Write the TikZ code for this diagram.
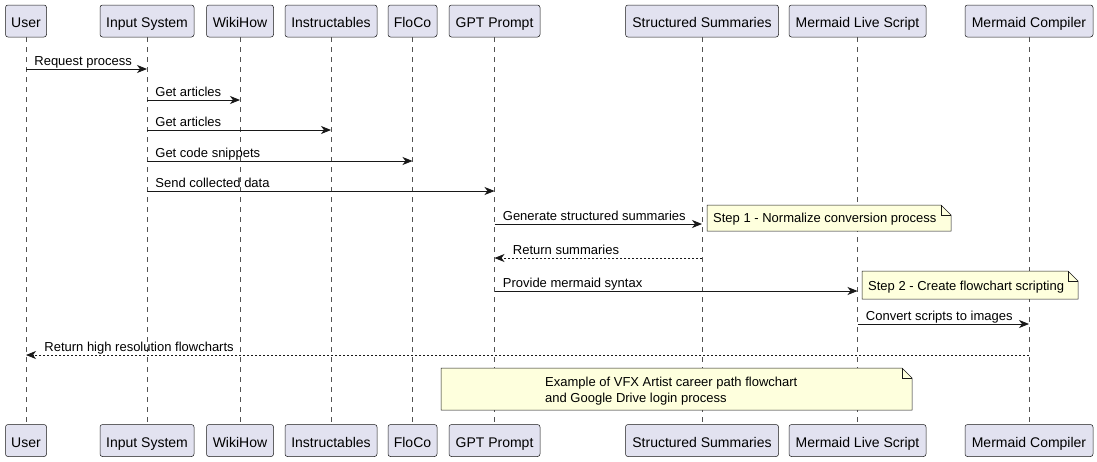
\documentclass[tikz,border=0pt]{standalone}
\usepackage{fontspec}
\setmainfont{Liberation Sans}
\usetikzlibrary{arrows.meta}

\definecolor{partfill}{HTML}{E2E2F0}
\definecolor{notefill}{HTML}{FEFFDD}
\definecolor{umlline}{HTML}{181818}

\tikzset{
  part/.style={draw=umlline, fill=partfill, rounded corners=2.5pt, line width=0.5pt,
    minimum height=32pt, inner sep=0pt, text height=13pt, text depth=0pt,
    font=\fontsize{14}{16}\selectfont},
  life/.style={draw=umlline!75, line width=0.5pt, dash pattern=on 5pt off 5pt},
  msg/.style={draw=umlline, line width=0.8pt, -{Stealth[length=10pt,width=8pt,inset=3pt]}},
  ret/.style={msg, dash pattern=on 2pt off 2pt},
  lbl/.style={font=\fontsize{13}{15}\selectfont, inner sep=0pt, anchor=base west},
  notebox/.style={draw=umlline, fill=notefill, line width=0.5pt},
  notetxt/.style={font=\fontsize{13}{16.5}\selectfont, inner sep=0pt, anchor=west, align=left},
}

\begin{document}
\begin{tikzpicture}[x=1pt, y=-1pt]
      \useasboundingbox (0,0) rectangle (1097,461);

      % participants, top and bottom
      \node[part, minimum width=41pt] (user) at (26,21) {User};
      \node[part, minimum width=94pt] (inp) at (147,21) {Input System};
      \node[part, minimum width=67pt] (wiki) at (240,21) {WikiHow};
      \node[part, minimum width=92pt] (instr) at (331,21) {Instructables};
      \node[part, minimum width=49pt] (floco) at (412.5,21) {FloCo};
      \node[part, minimum width=91pt] (gpt) at (494.5,21) {GPT Prompt};
      \node[part, minimum width=153pt] (summ) at (702,21) {Structured Summaries};
      \node[part, minimum width=137pt] (live) at (857.5,21) {Mermaid Live Script};
      \node[part, minimum width=128pt] (comp) at (1029,21) {Mermaid Compiler};

      \node[part, minimum width=41pt] (userB) at (26,440.5) {User};
      \node[part, minimum width=94pt] (inpB) at (147,440.5) {Input System};
      \node[part, minimum width=67pt] (wikiB) at (240,440.5) {WikiHow};
      \node[part, minimum width=92pt] (instrB) at (331,440.5) {Instructables};
      \node[part, minimum width=49pt] (flocoB) at (412.5,440.5) {FloCo};
      \node[part, minimum width=91pt] (gptB) at (494.5,440.5) {GPT Prompt};
      \node[part, minimum width=153pt] (summB) at (702,440.5) {Structured Summaries};
      \node[part, minimum width=137pt] (liveB) at (857.5,440.5) {Mermaid Live Script};
      \node[part, minimum width=128pt] (compB) at (1029,440.5) {Mermaid Compiler};

      % lifelines
      \draw[life] (user) -- (userB);
      \draw[life] (inp) -- (inpB);
      \draw[life] (wiki) -- (wikiB);
      \draw[life] (instr) -- (instrB);
      \draw[life] (floco) -- (flocoB);
      \draw[life] (gpt) -- (gptB);
      \draw[life] (summ) -- (summB);
      \draw[life] (live) -- (liveB);
      \draw[life] (comp) -- (compB);

      % message rows
      \coordinate (m1) at (0,69);
      \coordinate (m2) at (0,100);
      \coordinate (m3) at (0,130);
      \coordinate (m4) at (0,161);
      \coordinate (m5) at (0,191);
      \coordinate (m6) at (0,224);
      \coordinate (m7) at (0,258);
      \coordinate (m8) at (0,291);
      \coordinate (m9) at (0,324);
      \coordinate (m10) at (0,355);

      \draw[msg] (user |- m1) -- (inp |- m1)
      node[pos=0, lbl, xshift=8pt, yshift=4pt] {Request process};
      \draw[msg] (inp |- m2) -- (wiki |- m2)
      node[pos=0, lbl, xshift=8pt, yshift=4pt] {Get articles};
      \draw[msg] (inp |- m3) -- (instr |- m3)
      node[pos=0, lbl, xshift=8pt, yshift=4pt] {Get articles};
      \draw[msg] (inp |- m4) -- (floco |- m4)
      node[pos=0, lbl, xshift=8pt, yshift=4pt] {Get code snippets};
      \draw[msg] (inp |- m5) -- (gpt |- m5)
      node[pos=0, lbl, xshift=8pt, yshift=4pt] {Send collected data};
      \draw[msg] (gpt |- m6) -- (summ |- m6)
      node[pos=0, lbl, xshift=8pt, yshift=4pt] {Generate structured summaries};
      \draw[ret] (summ |- m7) -- (gpt |- m7)
      node[pos=1, lbl, xshift=18pt, yshift=4pt] {Return summaries};
      \draw[msg] (gpt |- m8) -- (live |- m8)
      node[pos=0, lbl, xshift=8pt, yshift=4pt] {Provide mermaid syntax};
      \draw[msg] (live |- m9) -- (comp |- m9)
      node[pos=0, lbl, xshift=8pt, yshift=4pt] {Convert scripts to images};
      \draw[ret] (comp |- m10) -- (user |- m10)
      node[pos=1, lbl, xshift=18pt, yshift=4pt] {Return high resolution flowcharts};

      % notes
      \coordinate (n1a) at (707,231);
      \coordinate (n1b) at (951,205);
      \coordinate (n2a) at (862,299);
      \coordinate (n2b) at (1078,271);
      \coordinate (n3a) at (441,410);
      \coordinate (n3b) at (912,368);
      \foreach \n in {n1,n2,n3} {
        \filldraw[notebox] (\n a) -- (\n a |- \n b) -- ([xshift=-10pt]\n b)
        -- ([yshift=-10pt]\n b) -- (\n b |- \n a) -- cycle;
        \draw[notebox, fill=none] ([xshift=-10pt]\n b) -- ([xshift=-10pt,yshift=-10pt]\n b)
        -- ([yshift=-10pt]\n b);
      }
      \node[notetxt] (t1) at (713,219.5) {Step 1 - Normalize conversion process};
      \node[notetxt] (t2) at (868,287) {Step 2 - Create flowchart scripting};
      \node[notetxt] (t3) at (545,391) {Example of VFX Artist career path flowchart\\and Google Drive login process};
\end{tikzpicture}
\end{document}
